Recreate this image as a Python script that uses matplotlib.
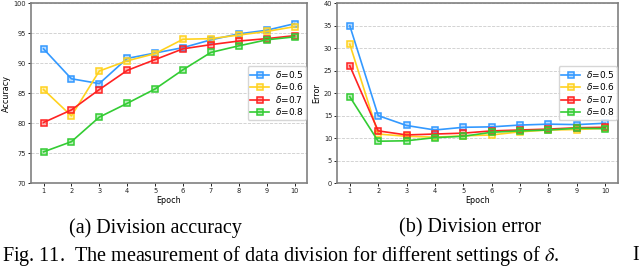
import matplotlib
matplotlib.use("Agg")
import matplotlib.pyplot as plt

epochs = [1, 2, 3, 4, 5, 6, 7, 8, 9, 10]
labels = [r"$\delta$=0.5", r"$\delta$=0.6", r"$\delta$=0.7", r"$\delta$=0.8"]
colors = ["#3399ff", "#ffd21f", "#ff2222", "#33cc33"]

acc_05 = [92.4, 87.4, 86.6, 90.8, 91.7, 92.6, 93.9, 94.9, 95.5, 96.6]
acc_06 = [85.6, 81.2, 88.7, 90.4, 91.6, 94.0, 94.1, 94.7, 95.3, 96.1]
acc_07 = [80.1, 82.2, 85.6, 88.8, 90.6, 92.4, 93.1, 93.7, 94.1, 94.6]
acc_08 = [75.2, 76.9, 81.0, 83.3, 85.7, 88.9, 91.8, 92.9, 93.9, 94.4]

err_05 = [35.0, 15.0, 12.8, 11.8, 12.4, 12.5, 12.9, 13.1, 13.0, 13.3]
err_06 = [30.9, 10.9, 10.4, 10.2, 10.5, 10.7, 11.4, 11.8, 11.9, 12.2]
err_07 = [26.1, 11.6, 10.7, 10.9, 11.1, 11.6, 11.8, 12.0, 12.3, 12.4]
err_08 = [19.2, 9.3, 9.4, 10.1, 10.4, 11.3, 11.6, 11.8, 12.2, 12.1]

fig = plt.figure(figsize=(6.4, 2.69), dpi=100)
ax1 = fig.add_axes([0.0484, 0.3197, 0.4314, 0.668])
ax2 = fig.add_axes([0.5266, 0.3197, 0.439, 0.668])

def style(ax, series, ylim, yticks, ylabel):
    for vals, c, lab in zip(series, colors, labels):
        ax.plot(epochs, vals, color=c, lw=1.2, marker="s", ms=4.5,
                mfc=c + "55", mec=c, mew=1.1, label=lab)
    ax.set_xlim(0.55, 10.45)
    ax.set_ylim(*ylim)
    ax.set_xticks(epochs)
    ax.set_yticks(yticks)
    ax.tick_params(labelsize=4.8, length=2, width=0.7, pad=1.5, colors="#222222")
    ax.grid(axis="y", color="#cccccc", ls="--", lw=0.6)
    ax.set_axisbelow(True)
    for s in ax.spines.values():
        s.set_color("#808080")
        s.set_linewidth(1.2)
    ax.set_xlabel("Epoch", fontsize=5.8, labelpad=1.5)
    ax.set_ylabel(ylabel, fontsize=5.8, labelpad=1.5)
    leg = ax.legend(loc="center right", fontsize=6.5, handlelength=2.1,
                    borderpad=0.3, labelspacing=0.15, handletextpad=0.6,
                    borderaxespad=0.1, fancybox=True)
    leg.get_frame().set_edgecolor("#cccccc")

style(ax1, [acc_05, acc_06, acc_07, acc_08], (70, 100), [70, 75, 80, 85, 90, 95, 100], "Accuracy")
style(ax2, [err_05, err_06, err_07, err_08], (0, 40), [0, 5, 10, 15, 20, 25, 30, 35, 40], "Error")

fig.text(155 / 640, 1 - 228 / 269, "(a) Division accuracy", family="Liberation Serif",
         fontsize=14.5, ha="center", va="center")
fig.text(470 / 640, 1 - 228 / 269, "(b) Division error", family="Liberation Serif",
         fontsize=14.5, ha="center", va="center")
fig.text(2 / 640, 1 - 256 / 269, r"Fig. 11.  The measurement of data division for different settings of $\delta$.",
         family="Liberation Serif", fontsize=14.5, ha="left", va="center",
         math_fontfamily="stix")
fig.text(632 / 640, 1 - 256 / 269, "I", family="Liberation Serif", fontsize=14.5,
         ha="left", va="center")

fig.savefig("out.png", dpi=100)
